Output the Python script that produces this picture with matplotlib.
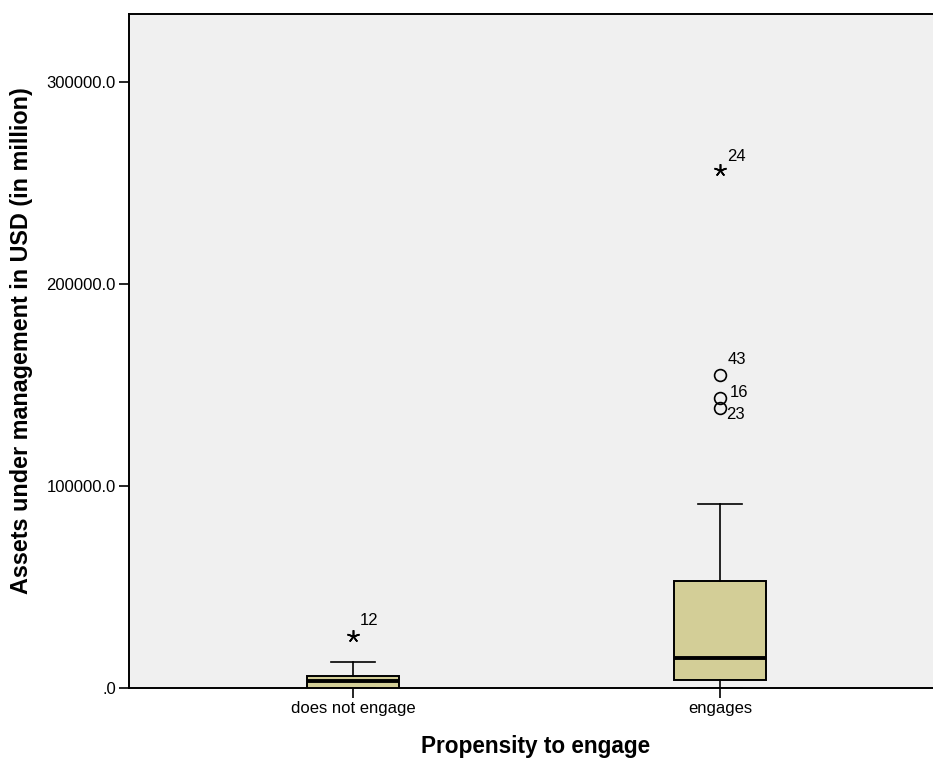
import matplotlib
matplotlib.use("Agg")
import matplotlib.pyplot as plt
from matplotlib.ticker import FuncFormatter

plt.rcParams['font.family'] = ['Liberation Sans', 'DejaVu Sans']

# ---- data ----
categories = ["does not engage", "engages"]
q1_vals = [200, 4100]
median_vals = [3400, 15000]
q3_vals = [5800, 53100]
whisker_low = [0, 0]
whisker_high = [13000, 91100]

# outliers: (category index, value, case id, kind) kind: 'o' mild, '*' extreme
outlier_cat = [0, 1, 1, 1, 1]
outlier_val = [25900, 256400, 154900, 143400, 138500]
outlier_id = ["12", "24", "43", "16", "23"]
outlier_kind = ["*", "*", "o", "o", "o"]
# label offsets in pixels (dx, dy upward)
label_dx = [7, 7, 8, 10, 6]
label_dy = [15, 14, 16, 6, -6]

y_ticks = [0, 100000, 200000, 300000]
x_label = "Propensity to engage"
y_label = "Assets under management in USD (in million)"

# ---- figure ----
W, H = 933, 758
fig = plt.figure(figsize=(W / 100, H / 100), dpi=100)
ax = fig.add_axes([129 / W, 1 - 688 / H, (944 - 129) / W, (688 - 14) / H])
ax.set_facecolor("#f0f0f0")

positions = [1, 2]
stats = []
for i, c in enumerate(categories):
    stats.append(dict(med=median_vals[i], q1=q1_vals[i], q3=q3_vals[i],
                      whislo=whisker_low[i], whishi=whisker_high[i],
                      fliers=[], label=c))

ax.bxp(stats, positions=positions, widths=0.25, patch_artist=True,
       showfliers=False,
       boxprops=dict(facecolor="#d3ce97", edgecolor="black", linewidth=1.4),
       medianprops=dict(color="black", linewidth=2.8, solid_capstyle="butt"),
       whiskerprops=dict(color="black", linewidth=1.2),
       capprops=dict(color="black", linewidth=1.2),
       capwidths=0.12, zorder=3)

px = 0.72  # points per pixel at dpi 100
for c, v, lab, k, dx, dy in zip(outlier_cat, outlier_val, outlier_id,
                                outlier_kind, label_dx, label_dy):
    xpos = positions[c]
    if k == "o":
        ax.plot([xpos], [v], marker="o", ms=8.5, mfc="none", mec="black",
                mew=1.2, ls="none", zorder=4)
    else:
        ax.plot([xpos], [v], marker=(5, 2, 0), ms=9, mec="black",
                mew=1.2, ls="none", zorder=4)
    ax.annotate(lab, (xpos, v), xytext=(dx * px, dy * px),
                textcoords="offset points", ha="left", va="center",
                fontsize=12, color="black")

ax.set_xlim(1 - 224 / 367, 2 + 224 / 367)
ax.set_ylim(0, 333700)
ax.set_yticks(y_ticks)
ax.yaxis.set_major_formatter(FuncFormatter(
    lambda v, p: ("%.1f" % v)[1:] if v == 0 else "%.1f" % v))
ax.set_xticks(positions)
ax.set_xticklabels(categories)
ax.tick_params(axis="both", direction="out", length=7.5, width=1.2,
               labelsize=12, colors="black", pad=2)

for s in ["left", "bottom", "top", "right"]:
    ax.spines[s].set_color("black")
    ax.spines[s].set_linewidth(1.4)

ax.set_xlabel(x_label, fontsize=16.3, fontweight="bold")
ax.set_ylabel(y_label, fontsize=16.8, fontweight="bold")
ax.xaxis.set_label_coords((536 - 129) / (944 - 129), -(735 - 688) / (688 - 14))
ax.yaxis.set_label_coords(-(129 - 33) / (944 - 129), (688 - 341) / (688 - 14))

fig.savefig("out.png", dpi=100, facecolor="white")
